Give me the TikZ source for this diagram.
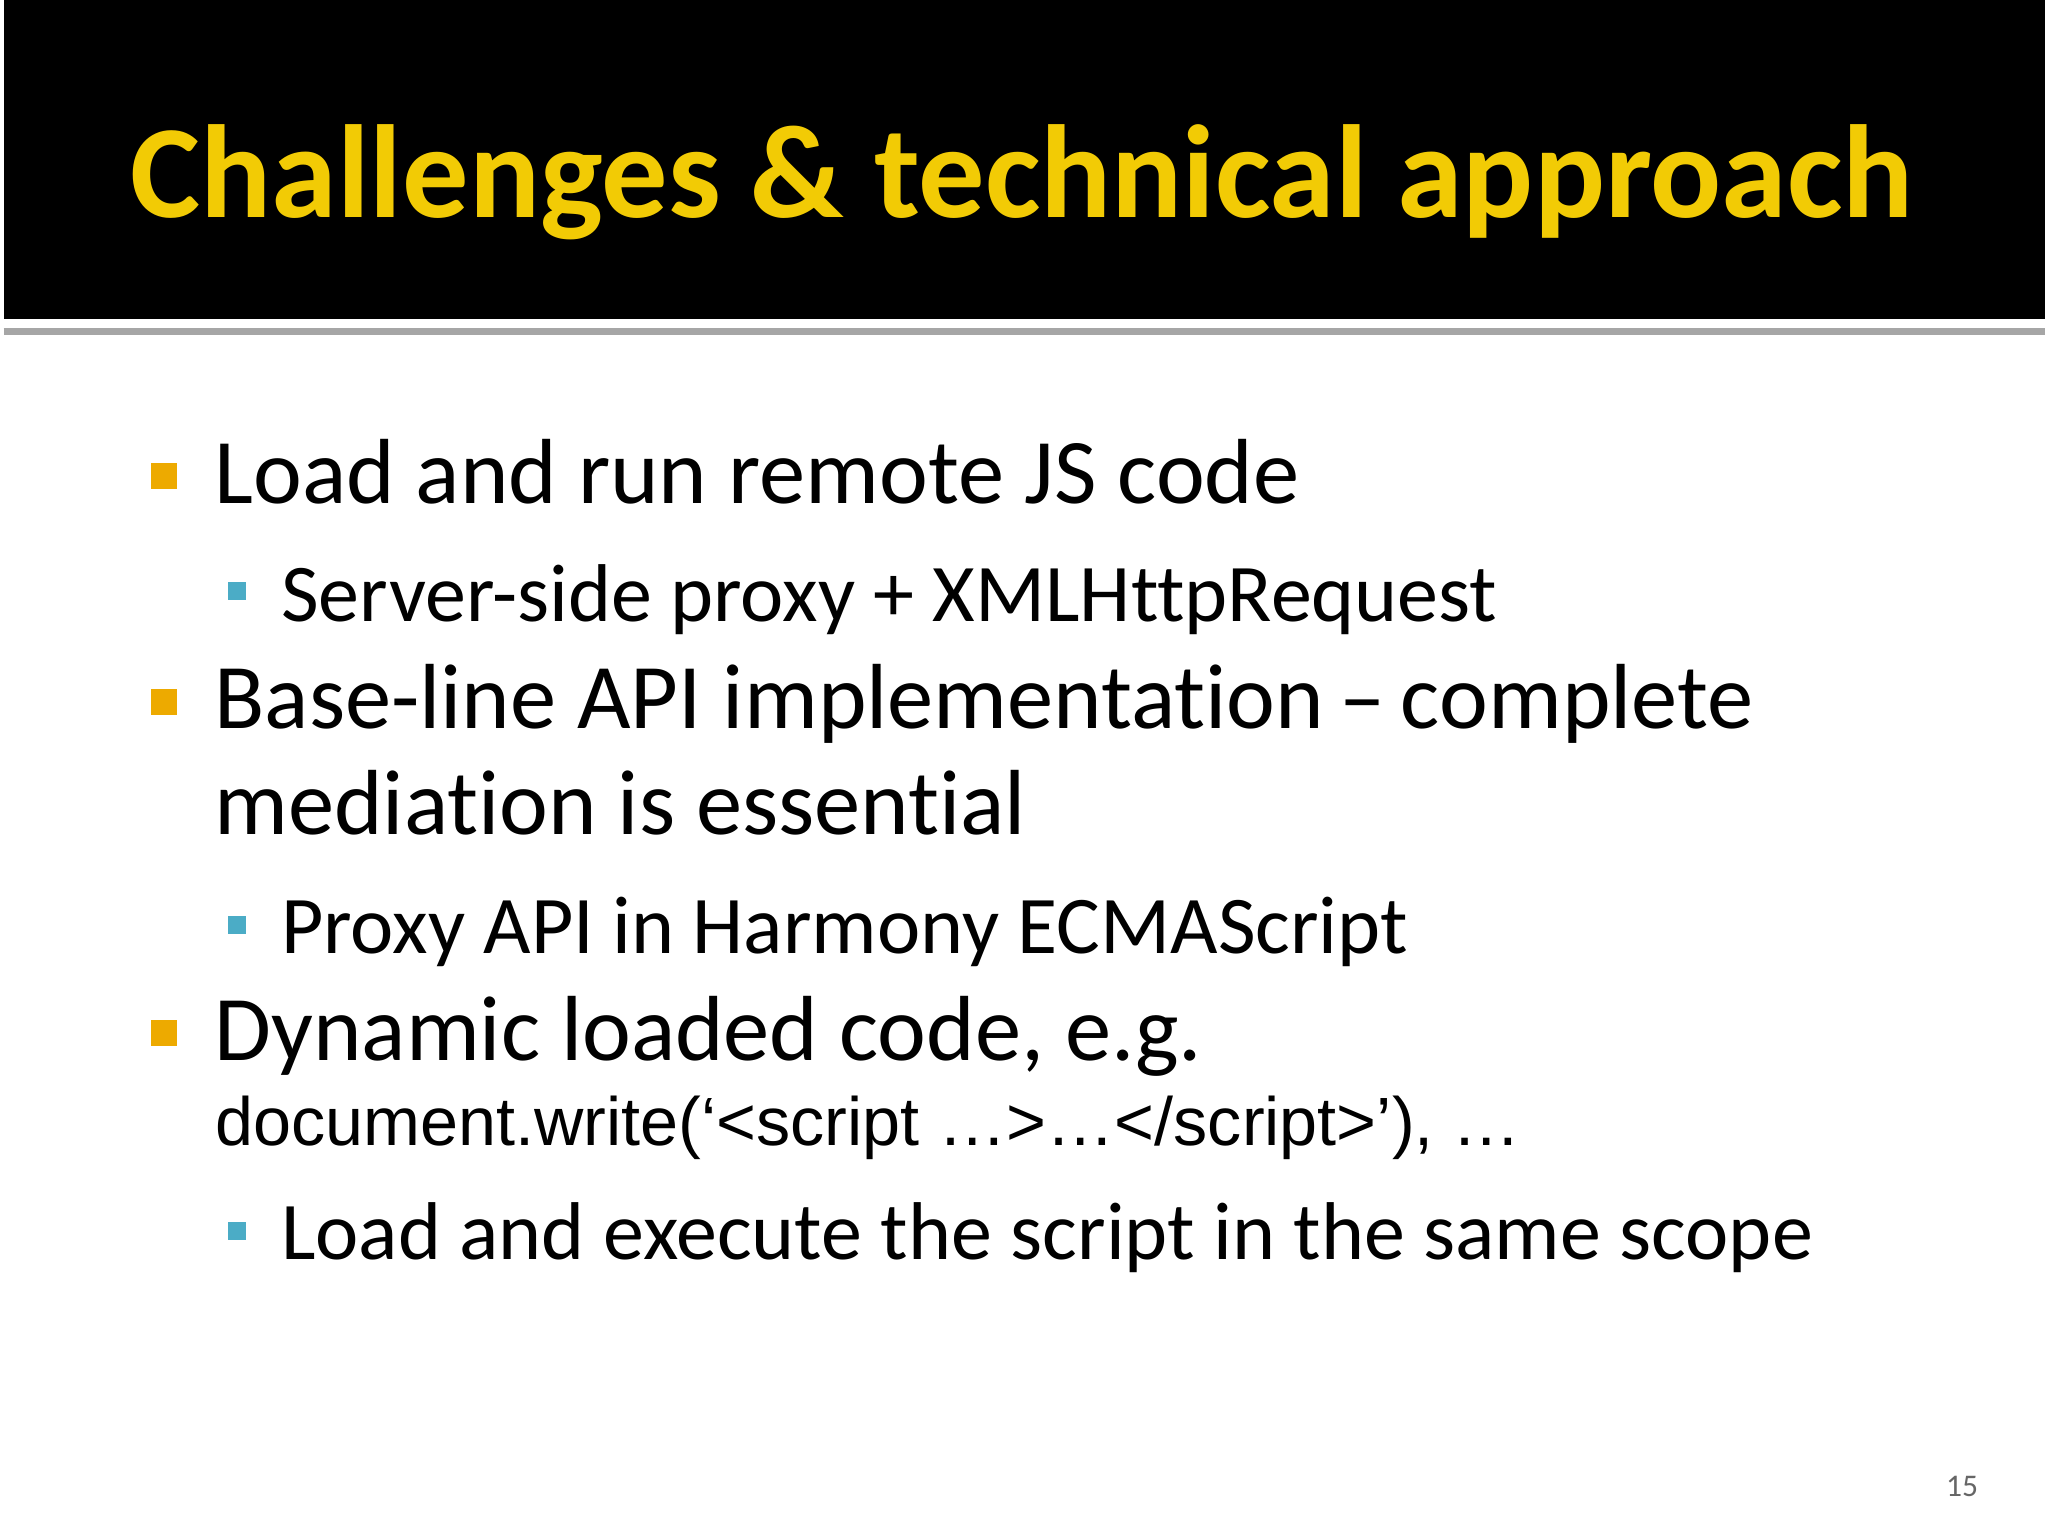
\documentclass[tikz,border=0pt]{standalone}
\usepackage{fontspec}
\setmainfont{Carlito}[Ligatures={NoCommon}]
\newfontfamily\arialf{Liberation Sans}
\definecolor{ttl}{HTML}{F2CB05}
\definecolor{bor}{HTML}{EDAA00}
\definecolor{bbl}{HTML}{4BACC6}
\begin{document}
\begin{tikzpicture}[x=1cm,y=1cm,
  lone/.style={anchor=base west,font=\fontsize{26.4}{30}\selectfont,inner sep=0},
  ltwo/.style={anchor=base west,font=\fontsize{23.4}{26}\selectfont,inner sep=0},
  bo/.style={fill=bor},
  bb/.style={fill=bbl}]
\fill[white] (0,0) rectangle (20.48,15.36);
\fill[black] (0,15.36) rectangle (20.48,12.16);
\draw[gray!70,line width=2pt] (0,12.03) -- (20.48,12.03);
\node[anchor=base west,inner sep=0,text=ttl,font=\fontsize{37.8}{44}\selectfont\bfseries] (title) at (1.27,13.18) {Challenges \& technical approach};
\fill[bo] (1.48,10.45) rectangle (1.74,10.71);
\node[lone] (l1) at (2.11,10.31) {Load and run remote JS code};
\fill[bb] (2.25,9.34) rectangle (2.43,9.52);
\node[ltwo] (l2) at (2.78,9.12) {Server-side proxy + XMLHttpRequest};
\fill[bo] (1.48,8.19) rectangle (1.74,8.45);
\node[lone] (l3) at (2.11,8.05) {Base-line API implementation\,--\,complete};
\node[lone] (l4) at (2.11,6.99) {mediation is essential};
\fill[bb] (2.25,5.99) rectangle (2.43,6.17);
\node[ltwo] (l5) at (2.78,5.79) {Proxy API in Harmony ECMAScript};
\fill[bo] (1.48,4.86) rectangle (1.74,5.12);
\node[lone] (l6) at (2.11,4.72) {Dynamic loaded code, e.g.};
\node[anchor=base west,inner sep=0,font=\arialf\fontsize{19.5}{21}\selectfont] (l7) at (2.12,3.87) {document.write(‘<script …>…</script>’), …};
\fill[bb] (2.25,2.92) rectangle (2.43,3.10);
\node[ltwo] (l8) at (2.78,2.72) {Load and execute the script in the same scope};
\node[anchor=base east,inner sep=0,text=gray!80!black,font=\fontsize{9}{10}\selectfont] (pg) at (19.82,0.34) {15};
\end{tikzpicture}
\end{document}
